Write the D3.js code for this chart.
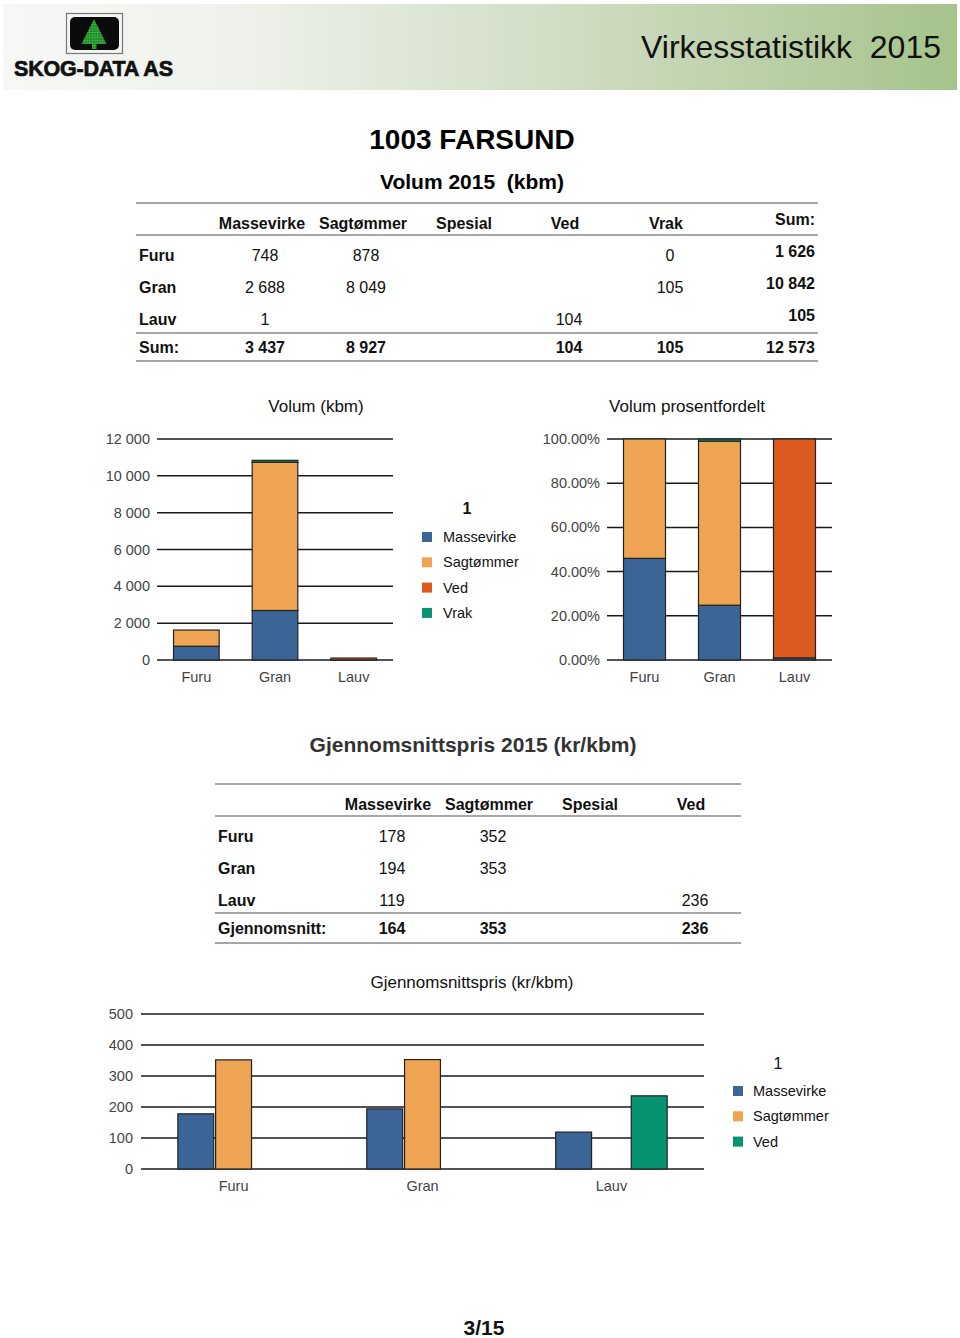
<!DOCTYPE html>
<html>
<head>
<meta charset="utf-8">
<script src="https://cdn.jsdelivr.net/npm/d3@7"></script>
<style>
  html, body { margin: 0; padding: 0; background: #fff; }
  svg { display: block; font-family: "Liberation Sans", Arial, sans-serif; }
  text { white-space: pre; }
</style>
</head>
<body>
<svg id="page" width="960" height="1338"></svg>
<script>
// ---------------- DATA ----------------
const categories = ["Furu", "Gran", "Lauv"];

// Volum 2015 (kbm)
const volColumns = ["Massevirke", "Sagtømmer", "Spesial", "Ved", "Vrak"];
const volMassevirke = [748, 2688, 1];
const volSagtommer = [878, 8049, null];
const volSpesial = [null, null, null];
const volVed = [null, null, 104];
const volVrak = [0, 105, null];

const volSeries = ["Massevirke", "Sagtømmer", "Ved", "Vrak"];
const volTicks = [0, 2000, 4000, 6000, 8000, 10000, 12000];
const pctTicks = [0, 0.2, 0.4, 0.6, 0.8, 1];

// Gjennomsnittspris 2015 (kr/kbm)
const priceColumns = ["Massevirke", "Sagtømmer", "Spesial", "Ved"];
const priceMassevirke = [178, 194, 119];
const priceSagtommer = [352, 353, null];
const priceSpesial = [null, null, null];
const priceVed = [null, null, 236];
const priceAverage = [164, 353, null, 236];

const priceSeries = ["Massevirke", "Sagtømmer", "Ved"];
const priceTicks = [0, 100, 200, 300, 400, 500];

const legendTitle = "1";

// ---------------- SETUP ----------------
const locale = d3.formatLocale({decimal: ".", thousands: " ", grouping: [3], currency: ["", ""]});
const fmtInt = locale.format(",d");
const fmtPct = locale.format(".2%");
const fmtCell = v => (v === null || v === undefined) ? "" : fmtInt(v);

const colVol = {"Massevirke": "#3b6597", "Sagtømmer": "#eea453", "Ved": "#dc5a1f", "Vrak": "#099371"};
const colPrice = {"Massevirke": "#3b6597", "Sagtømmer": "#eea453", "Ved": "#069470"};

const svg = d3.select("#page");
const defs = svg.append("defs");

// ---------------- HEADER ----------------
const grad = defs.append("linearGradient").attr("id", "hdr").attr("x1", "0").attr("x2", "1");
grad.append("stop").attr("offset", "0").attr("stop-color", "#f7f8f6");
grad.append("stop").attr("offset", "0.25").attr("stop-color", "#eef1eb");
grad.append("stop").attr("offset", "0.6").attr("stop-color", "#cfdcc2");
grad.append("stop").attr("offset", "1").attr("stop-color", "#a5c38b");
svg.append("rect").attr("x", 3).attr("y", 4).attr("width", 954).attr("height", 86).attr("fill", "url(#hdr)");

// logo
const pat = defs.append("pattern").attr("id", "dots").attr("width", 2.6).attr("height", 2.6).attr("patternUnits", "userSpaceOnUse");
pat.append("rect").attr("width", 2.6).attr("height", 2.6).attr("fill", "#1f7a25");
pat.append("circle").attr("cx", 1.3).attr("cy", 1.3).attr("r", 0.95).attr("fill", "#3fd04a");
svg.append("rect").attr("x", 66.5).attr("y", 13.5).attr("width", 56).attr("height", 40).attr("fill", "#f4f4f4").attr("stroke", "#777").attr("stroke-width", 1.2);
svg.append("rect").attr("x", 70).attr("y", 17).attr("width", 49).attr("height", 33).attr("rx", 5).attr("fill", "#0b0b0b");
svg.append("path").attr("d", "M94,19 L106.5,44 L81.5,44 Z").attr("fill", "url(#dots)");
svg.append("rect").attr("x", 92).attr("y", 44).attr("width", 4.5).attr("height", 5).attr("fill", "url(#dots)");
svg.append("text").attr("x", 14).attr("y", 76).attr("font-size", 21.5).attr("font-weight", "bold")
  .attr("fill", "#111").attr("stroke", "#111").attr("stroke-width", 0.7).attr("textLength", 159).text("SKOG-DATA AS");
svg.append("text").attr("x", 941).attr("y", 58).attr("text-anchor", "end").attr("font-size", 32).attr("fill", "#111")
  .text("Virkesstatistikk  2015");

// ---------------- TITLES ----------------
svg.append("text").attr("x", 472).attr("y", 149).attr("text-anchor", "middle").attr("font-size", 28).attr("font-weight", "bold").text("1003 FARSUND");
svg.append("text").attr("x", 472).attr("y", 189).attr("text-anchor", "middle").attr("font-size", 21).attr("font-weight", "bold").text("Volum 2015  (kbm)");

// ---------------- TABLE helper ----------------
function hline(x1, x2, y) {
  svg.append("line").attr("x1", x1).attr("x2", x2).attr("y1", y).attr("y2", y).attr("stroke", "#8a8a8a").attr("stroke-width", 1.6);
}
function txt(x, y, s, anchor, bold, size) {
  svg.append("text").attr("x", x).attr("y", y).attr("text-anchor", anchor || "start")
    .attr("font-size", size || 16).attr("font-weight", bold ? "bold" : "normal").attr("fill", "#111").text(s);
}

// Table 1
{
  const x1 = 136, x2 = 818;
  hline(x1, x2, 203); hline(x1, x2, 235); hline(x1, x2, 333); hline(x1, x2, 361);
  const headX = [262, 363, 464, 565, 666];
  const valX = [265, 366, 467, 569, 670];
  const colsData = [volMassevirke, volSagtommer, volSpesial, volVed, volVrak];
  volColumns.forEach((c, i) => txt(headX[i], 229, c, "middle", true));
  txt(815, 225, "Sum:", "end", true);
  const rowY = [261, 293, 325];
  categories.forEach((cat, r) => {
    txt(139, rowY[r], cat, "start", true);
    colsData.forEach((col, i) => txt(valX[i], rowY[r], fmtCell(col[r]), "middle", false));
    const rs = d3.sum(colsData, col => col[r] || 0);
    txt(815, rowY[r] - 4, fmtInt(rs), "end", true);
  });
  txt(139, 353, "Sum:", "start", true);
  colsData.forEach((col, i) => {
    const has = col.some(v => v !== null);
    txt(valX[i], 353, has ? fmtInt(d3.sum(col, v => v || 0)) : "", "middle", true);
  });
  const total = d3.sum(colsData, col => d3.sum(col, v => v || 0));
  txt(815, 353, fmtInt(total), "end", true);
}

// ---------------- STACKED CHARTS ----------------
const volRows = categories.map((c, i) => ({
  cat: c,
  "Massevirke": volMassevirke[i] || 0,
  "Sagtømmer": volSagtommer[i] || 0,
  "Ved": volVed[i] || 0,
  "Vrak": volVrak[i] || 0
}));

function gridAxis(g, y, ticks, fmt, x0, x1, labelX) {
  ticks.forEach(t => {
    g.append("line").attr("x1", x0).attr("x2", x1).attr("y1", y(t)).attr("y2", y(t)).attr("stroke", "#1a1a1a").attr("stroke-width", 1.5);
    g.append("text").attr("x", labelX).attr("y", y(t) + 5).attr("text-anchor", "end").attr("font-size", 14.5).attr("fill", "#444").text(fmt(t));
  });
}

// Chart 1: Volum (kbm)
{
  const g = svg.append("g");
  const y = d3.scaleLinear().domain([0, 12000]).range([660, 439]);
  const x = d3.scaleBand().domain(categories).range([157, 393]).paddingInner(0.42).paddingOuter(0.21);
  svg.append("text").attr("x", 316).attr("y", 412).attr("text-anchor", "middle").attr("font-size", 17).attr("fill", "#111").text("Volum (kbm)");
  gridAxis(g, y, volTicks, fmtInt, 157, 393, 150);
  const stack = d3.stack().keys(volSeries)(volRows);
  stack.forEach(layer => {
    g.selectAll(null).data(layer).join("rect")
      .attr("x", d => x(d.data.cat)).attr("width", x.bandwidth())
      .attr("y", d => y(d[1])).attr("height", d => Math.max(0, y(d[0]) - y(d[1])))
      .attr("fill", colVol[layer.key]).attr("stroke", "#222").attr("stroke-width", 1.2)
      .attr("display", d => d[1] - d[0] > 0 ? null : "none");
  });
  categories.forEach(c => g.append("text").attr("x", x(c) + x.bandwidth() / 2).attr("y", 682).attr("text-anchor", "middle").attr("font-size", 14.5).attr("fill", "#444").text(c));
}

// Legend 1
{
  const g = svg.append("g");
  g.append("text").attr("x", 467).attr("y", 514).attr("text-anchor", "middle").attr("font-size", 16).attr("font-weight", "bold").attr("fill", "#111").text(legendTitle);
  volSeries.forEach((s, i) => {
    const yc = 537 + i * 25.3;
    g.append("rect").attr("x", 422).attr("y", yc - 5).attr("width", 10).attr("height", 10).attr("fill", colVol[s]);
    g.append("text").attr("x", 443).attr("y", yc + 5).attr("font-size", 14.5).attr("fill", "#111").text(s);
  });
}

// Chart 2: Volum prosentfordelt
{
  const g = svg.append("g");
  const y = d3.scaleLinear().domain([0, 1]).range([660, 439]);
  const x = d3.scaleBand().domain(categories).range([607, 832]).paddingInner(0.44).paddingOuter(0.22);
  svg.append("text").attr("x", 687).attr("y", 412).attr("text-anchor", "middle").attr("font-size", 17).attr("fill", "#111").text("Volum prosentfordelt");
  gridAxis(g, y, pctTicks, fmtPct, 607, 832, 600);
  const stack = d3.stack().keys(volSeries).offset(d3.stackOffsetExpand)(volRows);
  stack.forEach(layer => {
    g.selectAll(null).data(layer).join("rect")
      .attr("x", d => x(d.data.cat)).attr("width", x.bandwidth())
      .attr("y", d => y(d[1])).attr("height", d => Math.max(0, y(d[0]) - y(d[1])))
      .attr("fill", colVol[layer.key]).attr("stroke", "#222").attr("stroke-width", 1.2)
      .attr("display", d => d[1] - d[0] > 0 ? null : "none");
  });
  categories.forEach(c => g.append("text").attr("x", x(c) + x.bandwidth() / 2).attr("y", 682).attr("text-anchor", "middle").attr("font-size", 14.5).attr("fill", "#444").text(c));
}

// ---------------- PRICE SECTION ----------------
svg.append("text").attr("x", 473).attr("y", 752).attr("text-anchor", "middle").attr("font-size", 21).attr("font-weight", "bold").attr("fill", "#333").text("Gjennomsnittspris 2015 (kr/kbm)");

// Table 2
{
  const x1 = 215, x2 = 741;
  hline(x1, x2, 784); hline(x1, x2, 816); hline(x1, x2, 913); hline(x1, x2, 943);
  const headX = [388, 489, 590, 691];
  const valX = [392, 493, 594, 695];
  const colsData = [priceMassevirke, priceSagtommer, priceSpesial, priceVed];
  priceColumns.forEach((c, i) => txt(headX[i], 810, c, "middle", true));
  const rowY = [842, 874, 906];
  categories.forEach((cat, r) => {
    txt(218, rowY[r], cat, "start", true);
    colsData.forEach((col, i) => txt(valX[i], rowY[r], fmtCell(col[r]), "middle", false));
  });
  txt(218, 934, "Gjennomsnitt:", "start", true);
  priceAverage.forEach((v, i) => txt(valX[i], 934, fmtCell(v), "middle", true));
}

// Chart 4: Gjennomsnittspris (kr/kbm)
{
  const g = svg.append("g");
  const y = d3.scaleLinear().domain([0, 500]).range([1169, 1014]);
  const x = d3.scaleBand().domain(categories).range([141, 704]).paddingInner(0.41).paddingOuter(0.195);
  const xs = d3.scaleBand().domain(priceSeries).range([0, x.bandwidth()]).paddingInner(0.05);
  svg.append("text").attr("x", 472).attr("y", 988).attr("text-anchor", "middle").attr("font-size", 17).attr("fill", "#111").text("Gjennomsnittspris (kr/kbm)");
  gridAxis(g, y, priceTicks, d3.format("d"), 141, 704, 133);
  const priceData = {"Massevirke": priceMassevirke, "Sagtømmer": priceSagtommer, "Ved": priceVed};
  priceSeries.forEach(s => {
    const pts = categories.map((c, i) => ({cat: c, v: priceData[s][i]})).filter(d => d.v !== null);
    g.selectAll(null).data(pts).join("rect")
      .attr("x", d => x(d.cat) + xs(s)).attr("width", xs.bandwidth())
      .attr("y", d => y(d.v)).attr("height", d => y(0) - y(d.v))
      .attr("fill", colPrice[s]).attr("stroke", "#222").attr("stroke-width", 1.2);
  });
  categories.forEach(c => g.append("text").attr("x", x(c) + x.bandwidth() / 2).attr("y", 1191).attr("text-anchor", "middle").attr("font-size", 14.5).attr("fill", "#444").text(c));
}

// Legend 2
{
  const g = svg.append("g");
  g.append("text").attr("x", 778).attr("y", 1069).attr("text-anchor", "middle").attr("font-size", 16).attr("fill", "#111").text(legendTitle);
  priceSeries.forEach((s, i) => {
    const yc = 1091 + i * 25.3;
    g.append("rect").attr("x", 733).attr("y", yc - 5).attr("width", 10).attr("height", 10).attr("fill", colPrice[s]);
    g.append("text").attr("x", 753).attr("y", yc + 5).attr("font-size", 14.5).attr("fill", "#111").text(s);
  });
}

// Page number
svg.append("text").attr("x", 484).attr("y", 1335).attr("text-anchor", "middle").attr("font-size", 21).attr("font-weight", "bold").attr("fill", "#111").text("3/15");
</script>
</body>
</html>
